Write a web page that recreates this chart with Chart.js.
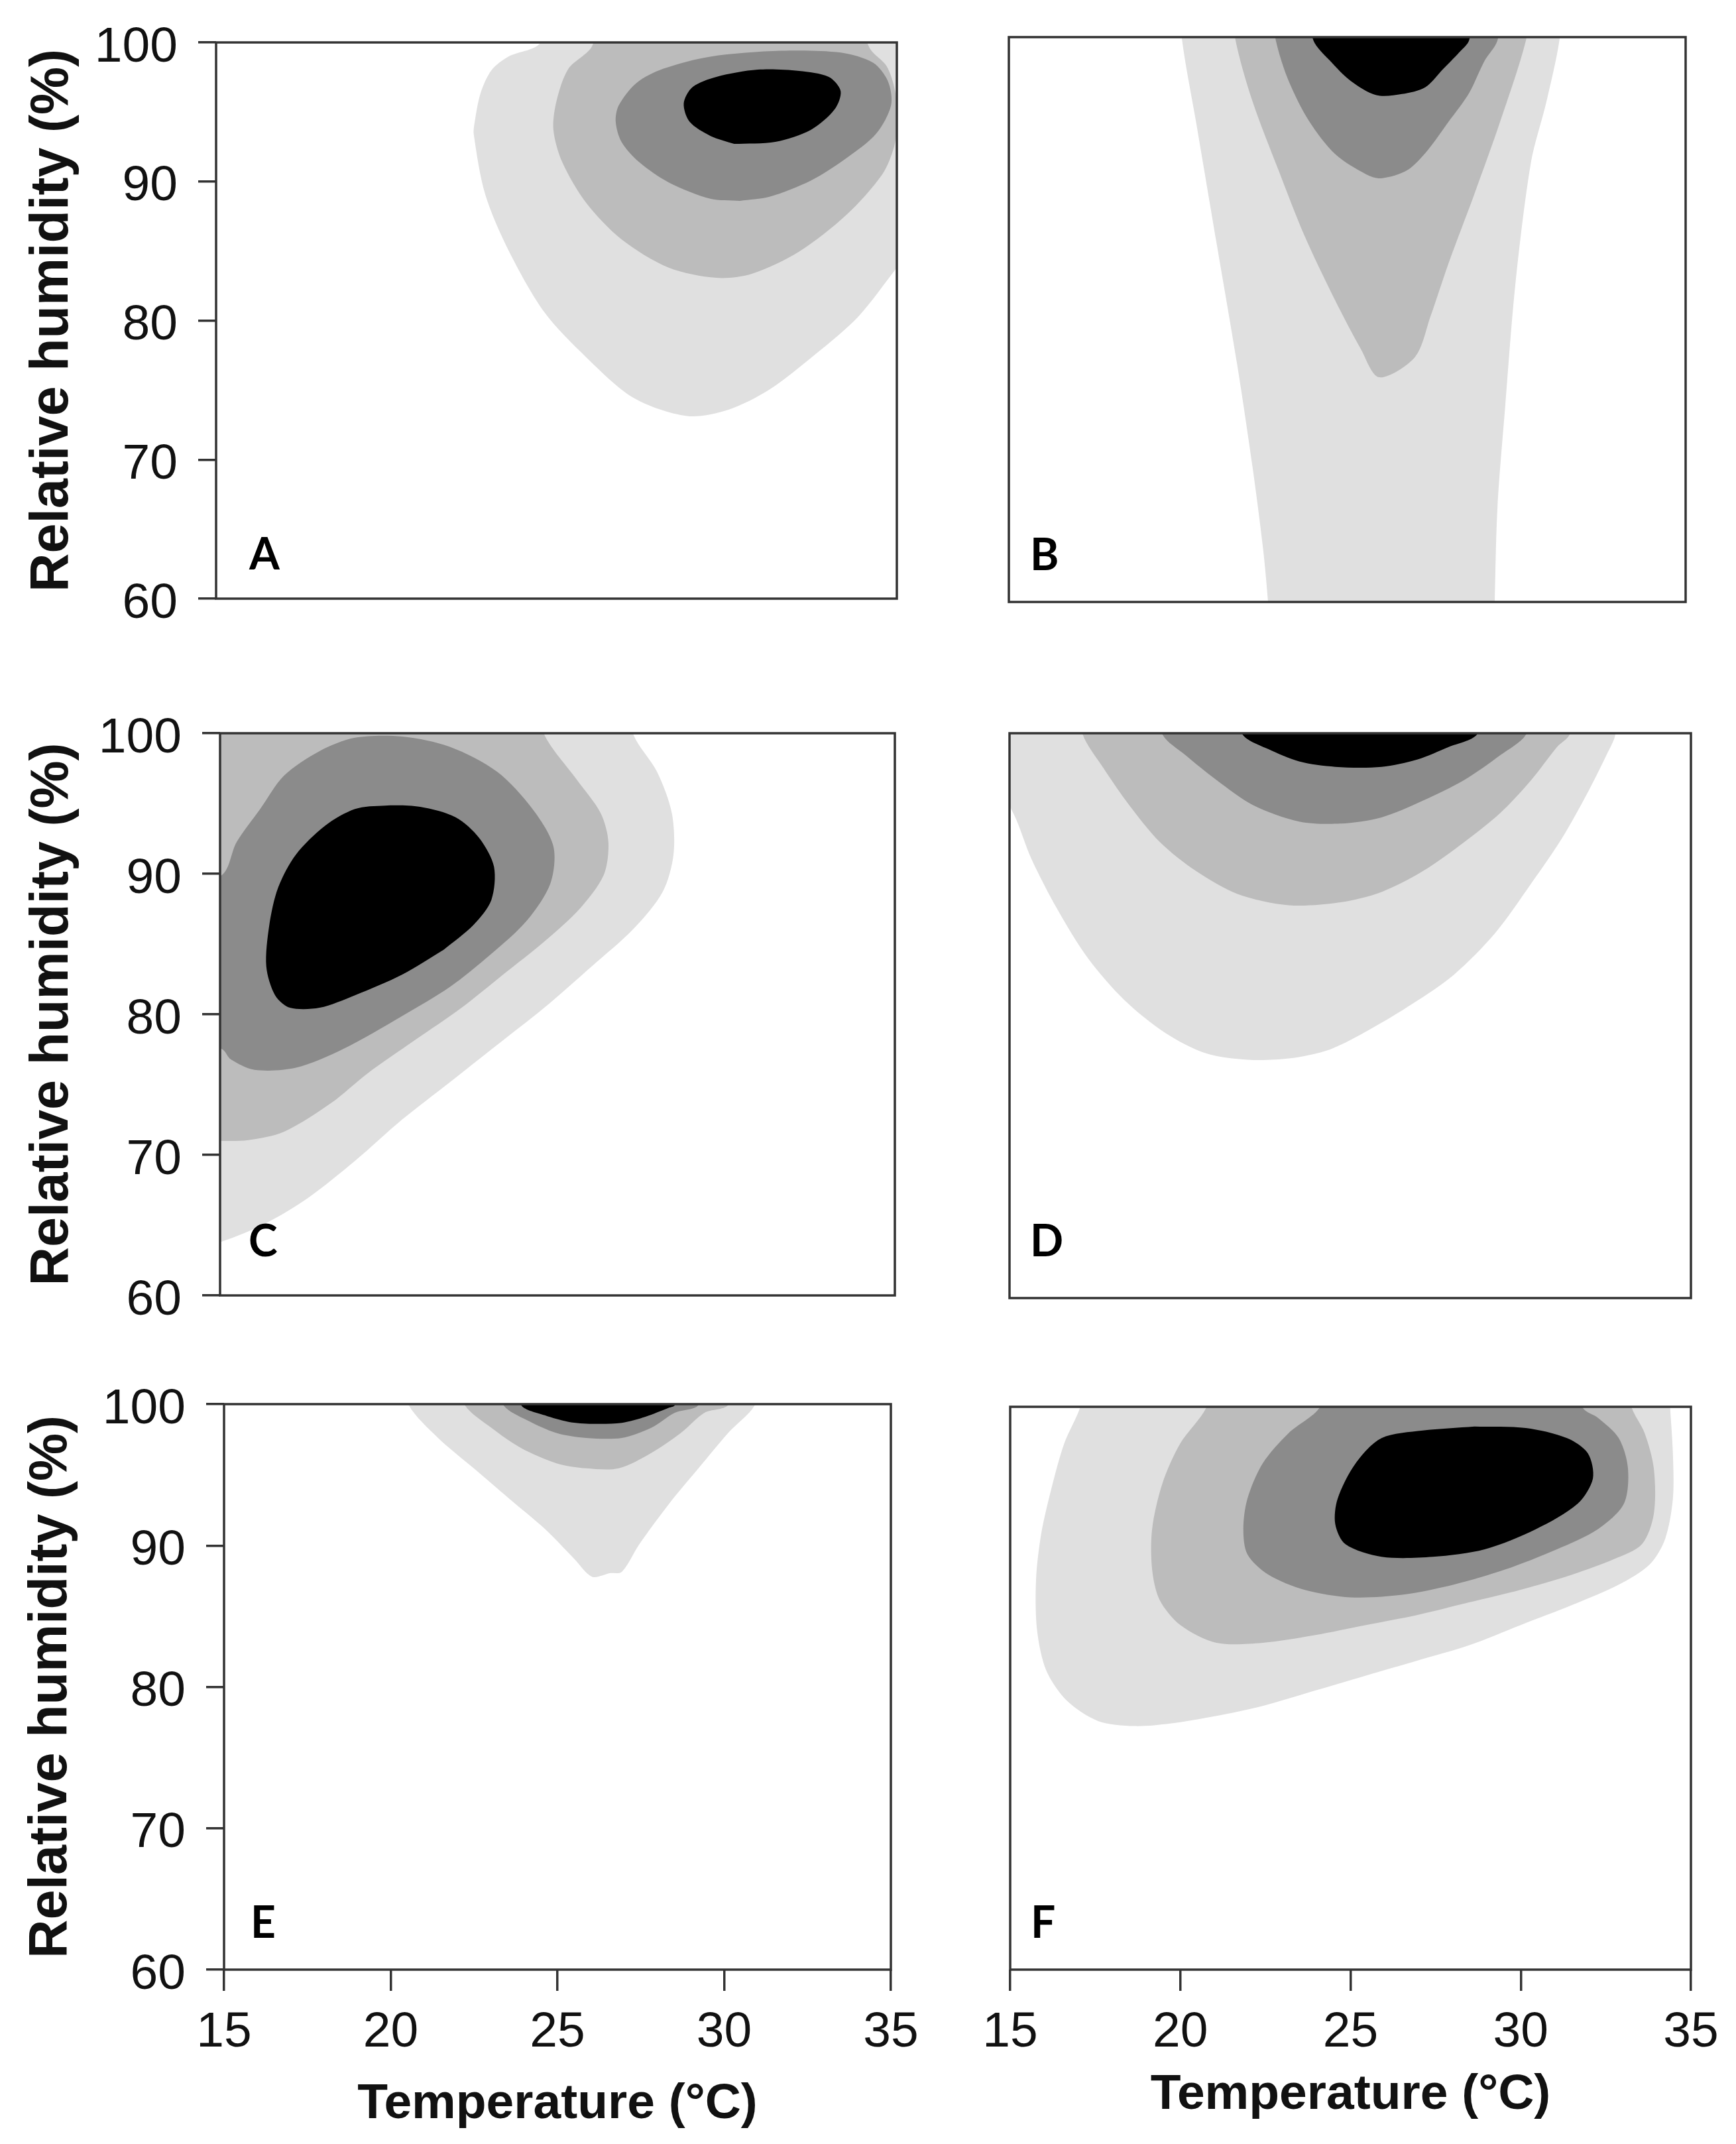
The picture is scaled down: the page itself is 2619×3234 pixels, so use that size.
<!DOCTYPE html>
<html>
<head>
<meta charset="utf-8">
<title>Temperature and relative humidity contours</title>
<script src="https://cdn.jsdelivr.net/npm/chart.js@4.4.1/dist/chart.umd.min.js"></script>
<style>
  html, body { margin: 0; padding: 0; background: #fff; }
  body { width: 2619px; height: 3234px; position: relative; overflow: hidden; }
  canvas { position: absolute; }
</style>
</head>
<body>
<canvas id="panelA"></canvas>
<canvas id="panelB"></canvas>
<canvas id="panelC"></canvas>
<canvas id="panelD"></canvas>
<canvas id="panelE"></canvas>
<canvas id="panelF"></canvas>
<script>
// tick labels
const temperatureTicks = [15, 20, 25, 30, 35];
const humidityTicks = [60, 70, 80, 90, 100];

// contour outlines, [temperature, relative humidity]
// points just outside 15-35 / 60-100 close the shapes and get clipped
const aLight = [[24.9,102],[24.48,99.85],[23.6,99.0],[23.09,98.0],[22.77,96.35],[22.6,94.3],[22.57,93.4],[22.91,89.05],[23.61,84.96],[24.65,80.58],[25.87,77.37],[27.26,74.45],[28.83,73.14],[30.04,73.58],[31.26,75.04],[32.65,77.66],[33.87,80.29],[35.0,83.8],[36,86.9],[37,102]];
const aMid = [[26.2,102],[26.04,99.7],[25.35,98.1],[25.0,95.77],[24.91,93.72],[25.17,91.39],[25.87,88.47],[26.91,85.84],[28.3,83.8],[29.7,83.07],[30.74,83.36],[32.13,84.96],[33.52,87.6],[34.57,90.5],[34.92,92.5],[35.02,94.5],[34.95,96.5],[34.7,98.3],[34.2,99.6],[33.9,102]];
const aDark = [[30.39,88.61],[31.26,88.9],[32.48,90.07],[33.52,91.68],[34.39,93.43],[34.83,95.47],[34.74,97.2],[34.3,98.54],[33.35,99.27],[31.6,99.4],[29.52,98.98],[28.13,98.1],[27.35,97.08],[26.83,95.47],[26.74,94.3],[26.91,92.85],[27.43,91.39],[28.3,89.93],[29.52,88.76],[30.39,88.61]];
const aBlack = [[30.22,92.7],[29.52,93.28],[28.91,94.3],[28.74,95.62],[29.0,96.79],[29.7,97.52],[30.91,98.04],[32.13,97.95],[33.0,97.52],[33.35,96.5],[33.17,95.18],[32.48,93.72],[31.43,92.85],[30.22,92.7]];

const bLight = [[20.1,102],[20.12,99.77],[20.53,94.02],[21.14,85.39],[21.75,76.77],[22.2,69.58],[22.51,63.83],[22.66,60],[22.7,58],[29.35,58],[29.36,60],[29.44,66.7],[29.67,73.9],[29.97,82.52],[30.43,91.14],[30.89,95.46],[31.27,99.77],[31.3,102]];
const bMid = [[21.65,102],[21.7,99.77],[22.2,95.46],[22.97,90.57],[23.73,85.97],[24.64,81.37],[25.4,77.92],[25.94,75.91],[27.0,77.34],[27.46,80.22],[27.99,83.96],[28.75,88.84],[29.52,94.02],[30.28,99.77],[30.35,102]];
const bDark = [[22.8,102],[22.89,99.77],[23.27,96.89],[23.88,94.02],[24.64,91.72],[25.56,90.28],[26.01,90.0],[26.77,90.57],[27.38,92.0],[28.0,94.02],[28.6,96.03],[29.06,98.33],[29.44,99.77],[29.5,102]];
const bBlack = [[23.9,102],[24.0,99.77],[24.49,98.33],[25.1,96.9],[25.86,95.89],[26.62,95.97],[27.31,96.46],[27.84,97.76],[28.3,98.9],[28.6,99.77],[28.7,102]];

const cLight = [[13,102],[27.2,102],[27.25,99.9],[27.95,97.26],[28.39,94.32],[28.44,91.37],[28.12,88.72],[27.25,86.07],[26.02,83.42],[24.61,80.47],[23.21,77.82],[21.81,75.17],[20.4,72.52],[19.0,69.57],[17.6,66.92],[16.37,65.15],[15.05,63.83],[13,62.5]];
const cMid = [[13,102],[24.55,102],[24.61,99.9],[25.58,96.67],[26.28,94.32],[26.51,92.25],[26.37,89.9],[25.67,87.54],[24.61,85.18],[23.39,82.83],[22.16,80.47],[20.75,78.12],[19.35,75.76],[18.3,73.7],[16.89,71.64],[15.84,71.05],[15.05,70.99],[13,71]];
const cDark = [[13,88],[15.05,89.9],[15.49,92.25],[16.19,94.61],[16.89,96.97],[17.95,98.73],[19.0,99.68],[20.4,99.76],[21.81,99.03],[23.21,97.26],[24.26,94.61],[24.88,91.96],[24.79,89.31],[24.09,86.66],[23.04,84.3],[21.81,81.94],[20.4,79.88],[18.65,77.53],[17.25,76.2],[16.02,76.05],[15.32,76.79],[15.05,77.53],[13,79]];
const cBlack = [[21.63,84.6],[20.4,82.83],[19.0,81.36],[17.95,80.47],[17.07,80.47],[16.63,81.36],[16.37,83.42],[16.46,86.36],[16.72,89.01],[17.25,91.37],[18.12,93.43],[19.0,94.61],[19.88,94.85],[20.93,94.76],[21.98,94.02],[22.68,92.55],[23.12,90.49],[23.04,88.13],[22.51,86.36],[21.63,84.6]];

const dLight = [[13,102],[32.8,102],[32.78,99.9],[32.58,98.74],[31.97,95.8],[31.22,92.58],[30.31,89.35],[29.25,85.83],[28.04,82.89],[26.83,80.84],[25.62,79.08],[24.41,77.61],[23.2,76.97],[21.99,76.88],[20.78,77.32],[19.57,78.78],[18.36,81.13],[17.3,84.07],[16.39,87.59],[15.64,91.11],[15.11,94.34],[14.5,96.5],[13,97]];
const dMid = [[17.1,102],[17.15,99.91],[17.75,97.56],[18.51,94.92],[19.42,92.28],[20.48,90.23],[21.69,88.62],[23.2,87.82],[24.71,88.03],[25.92,88.76],[27.13,90.23],[28.34,92.28],[29.4,94.34],[30.31,96.68],[31.07,99.03],[31.44,99.91],[31.6,102]];
const dDark = [[19.4,102],[19.49,99.91],[20.17,98.44],[21.08,96.68],[22.14,94.92],[23.5,93.75],[24.71,93.6],[25.92,94.04],[27.13,95.22],[28.34,96.68],[29.4,98.44],[30.16,99.91],[30.3,102]];
const dBlack = [[21.7,102],[21.84,99.91],[22.59,98.88],[23.5,98.0],[24.56,97.62],[25.92,97.62],[26.98,98.15],[27.89,99.03],[28.72,99.91],[28.9,102]];

const eLight = [[20.4,102],[20.54,99.93],[21.42,97.61],[22.49,95.46],[23.55,93.32],[24.62,91.18],[25.51,89.04],[26.04,87.79],[26.57,88.04],[26.93,88.14],[27.46,90.11],[28.35,92.96],[29.23,95.46],[30.12,97.96],[30.92,99.93],[31.1,102]];
const eMid = [[22.0,102],[22.22,99.93],[23.02,98.32],[23.91,96.89],[24.97,95.82],[25.86,95.46],[26.84,95.46],[27.81,96.54],[28.7,97.96],[29.41,99.39],[30.12,99.93],[30.4,102]];
const eDark = [[23.2,102],[23.38,99.93],[24.09,98.86],[24.97,97.96],[25.86,97.61],[26.93,97.61],[27.81,98.32],[28.52,99.39],[29.23,99.93],[29.4,102]];
const eBlack = [[23.8,102],[23.91,99.93],[24.62,99.21],[25.33,98.75],[26.04,98.61],[26.93,98.68],[27.64,99.11],[28.35,99.75],[28.52,99.93],[28.6,102]];

const fLight = [[17.2,102],[17.05,99.93],[16.59,97.41],[16.21,94.18],[15.91,90.95],[15.76,87.72],[15.79,84.13],[16.06,81.26],[16.67,79.1],[17.58,77.67],[18.64,77.31],[19.7,77.49],[21.06,78.03],[22.42,78.74],[23.94,79.82],[25.45,80.9],[26.97,81.97],[28.48,83.05],[30.0,84.49],[31.52,85.92],[32.88,87.36],[33.79,88.8],[34.24,90.59],[34.47,93.46],[34.47,96.7],[34.39,99.93],[34.35,102]];
const fMid = [[20.9,102],[20.76,99.93],[20.0,97.41],[19.47,94.54],[19.17,91.31],[19.17,88.44],[19.39,86.28],[20.0,84.49],[21.06,83.23],[22.42,83.23],[23.94,83.77],[25.45,84.49],[26.97,85.21],[28.48,86.1],[30.0,87.0],[31.52,88.08],[32.73,89.16],[33.56,90.23],[33.91,92.39],[33.91,95.62],[33.64,98.13],[33.26,99.93],[33.1,102]];
const fDark = [[24.3,102],[24.09,99.93],[23.18,98.13],[22.42,95.98],[21.97,93.46],[21.85,91.31],[21.97,89.52],[22.58,88.08],[23.64,87.0],[25.0,86.46],[26.52,86.64],[28.03,87.36],[29.55,88.44],[31.06,89.87],[32.27,91.31],[33.03,93.11],[33.15,95.62],[32.88,97.77],[32.27,99.21],[31.82,99.93],[31.6,102]];
const fBlack = [[28.64,98.6],[27.12,98.31],[25.91,97.77],[25.15,95.98],[24.62,93.46],[24.55,91.67],[24.85,90.23],[25.91,89.34],[27.42,89.34],[28.94,89.87],[30.45,91.31],[31.67,93.11],[32.12,94.9],[31.97,96.7],[31.36,97.77],[30.15,98.49],[28.64,98.6]];

// light grey -> black
const levelColors = ['#e0e0e0', '#bcbcbc', '#8b8b8b', '#000000'];
const textColor = '#111';
const frameColor = '#333';

// page layout of the six panels (pixels)
const panels = [
  { id: 'panelA', letter: 'A', contours: [aLight, aMid, aDark, aBlack], frame: { left: 326, top: 64, right: 1353, bottom: 903 }, yAxis: true, xAxis: false, letterDx: 50, letterDy: 44, yTitleX: 80 },
  { id: 'panelB', letter: 'B', contours: [bLight, bMid, bDark, bBlack], frame: { left: 1522, top: 56, right: 2543, bottom: 908 }, yAxis: false, xAxis: false, letterDx: 32, letterDy: 48 },
  { id: 'panelC', letter: 'C', contours: [cLight, cMid, cDark, cBlack], frame: { left: 332, top: 1106, right: 1350, bottom: 1954 }, yAxis: true, xAxis: false, letterDx: 43, letterDy: 59, yTitleX: 80 },
  { id: 'panelD', letter: 'D', contours: [dLight, dMid, dDark, dBlack], frame: { left: 1523, top: 1106, right: 2551, bottom: 1958 }, yAxis: false, xAxis: false, letterDx: 31, letterDy: 63 },
  { id: 'panelE', letter: 'E', contours: [eLight, eMid, eDark, eBlack], frame: { left: 338, top: 2118, right: 1344, bottom: 2971 }, yAxis: true, xAxis: true, letterDx: 40, letterDy: 48, yTitleX: 78, xTitleY: 3174 },
  { id: 'panelF', letter: 'F', contours: [fLight, fMid, fDark, fBlack], frame: { left: 1524, top: 2122, right: 2551, bottom: 2971 }, yAxis: false, xAxis: true, letterDx: 31, letterDy: 48, xTitleY: 3160 }
];

// box around the plotting region
const panelFrame = {
  id: 'panelFrame',
  afterDatasetsDraw(chart) {
    const { ctx, chartArea } = chart;
    ctx.save();
    ctx.strokeStyle = frameColor;
    ctx.lineWidth = 3.5;
    ctx.strokeRect(chartArea.left, chartArea.top, chartArea.right - chartArea.left, chartArea.bottom - chartArea.top);
    ctx.restore();
  }
};

// panel letter in the lower left corner
const panelLetter = {
  id: 'panelLetter',
  afterDraw(chart, args, opts) {
    const { ctx, chartArea } = chart;
    ctx.save();
    ctx.font = 'bold 66px Lato, "Open Sans", sans-serif';
    ctx.fillStyle = '#000';
    ctx.textBaseline = 'alphabetic';
    ctx.textAlign = 'left';
    ctx.fillText(opts.text, chartArea.left + opts.dx, chartArea.bottom - opts.dy);
    ctx.restore();
  }
};

const tickFont = { family: '"Liberation Sans", Arial, sans-serif', size: 75 };
const yTitleFont = { family: '"Liberation Sans", Arial, sans-serif', size: 81, weight: 'bold', lineHeight: 1 };
const xTitleFont = { family: '"Liberation Sans", Arial, sans-serif', size: 75, weight: 'bold', lineHeight: 1 };

function makePanel(p) {
  const axisW = p.yAxis ? 300 : 80;
  const axisH = p.xAxis ? 260 : 90;
  const padTop = 90;
  const padRight = 70;
  const w = p.frame.right - p.frame.left + axisW + padRight;
  const h = p.frame.bottom - p.frame.top + padTop + axisH;

  const canvas = document.getElementById(p.id);
  canvas.width = w;
  canvas.height = h;
  canvas.style.width = w + 'px';
  canvas.style.height = h + 'px';
  canvas.style.left = (p.frame.left - axisW) + 'px';
  canvas.style.top = (p.frame.top - padTop) + 'px';

  const yTitlePad = p.yAxis ? p.yTitleX - (p.frame.left - axisW) - yTitleFont.size / 2 : 0;
  const xTitlePad = p.xAxis ? (p.frame.bottom + axisH) - p.xTitleY - xTitleFont.size / 2 : 0;

  const datasets = p.contours.map((pts, i) => ({
    label: p.letter + i,
    data: pts.map(([t, rh]) => ({ x: t, y: rh })),
    showLine: true,
    fill: 'shape',
    backgroundColor: levelColors[i],
    borderColor: 'rgba(0,0,0,0)',
    borderWidth: 0,
    pointRadius: 0,
    pointHoverRadius: 0,
    tension: 0.3,
    order: p.contours.length - 1 - i,
    clip: 0
  }));

  return new Chart(canvas, {
    type: 'scatter',
    data: { datasets },
    options: {
      responsive: false,
      animation: false,
      devicePixelRatio: 1,
      events: [],
      layout: { padding: { top: padTop, right: padRight, left: 0, bottom: 0 } },
      elements: { line: { capBezierPoints: false } },
      plugins: {
        legend: { display: false },
        tooltip: { enabled: false },
        panelLetter: { text: p.letter, dx: p.letterDx, dy: p.letterDy }
      },
      scales: {
        x: {
          type: 'linear',
          min: 15,
          max: 35,
          afterBuildTicks: axis => { axis.ticks = temperatureTicks.map(value => ({ value })); },
          afterFit: axis => { axis.height = axisH; },
          border: { display: false },
          grid: { display: p.xAxis, drawOnChartArea: false, drawTicks: true, tickLength: 32, color: frameColor, lineWidth: 3.5 },
          ticks: { display: p.xAxis, padding: 18, maxRotation: 0, autoSkip: false, color: textColor, font: tickFont },
          title: { display: p.xAxis, text: 'Temperature (°C)', color: textColor, font: xTitleFont, padding: { top: 0, bottom: xTitlePad } }
        },
        y: {
          type: 'linear',
          min: 60,
          max: 100,
          afterBuildTicks: axis => { axis.ticks = humidityTicks.map(value => ({ value })); },
          afterFit: axis => { axis.width = axisW; },
          border: { display: false },
          grid: { display: p.yAxis, drawOnChartArea: false, drawTicks: true, tickLength: 27, color: frameColor, lineWidth: 3.5 },
          ticks: { display: p.yAxis, padding: 31, labelOffset: 8, autoSkip: false, color: textColor, font: tickFont },
          title: { display: p.yAxis, text: 'Relative humidity (%)', color: textColor, font: yTitleFont, padding: { top: yTitlePad, bottom: 0 } }
        }
      }
    },
    plugins: [panelFrame, panelLetter]
  });
}

panels.forEach(makePanel);
</script>
</body>
</html>
